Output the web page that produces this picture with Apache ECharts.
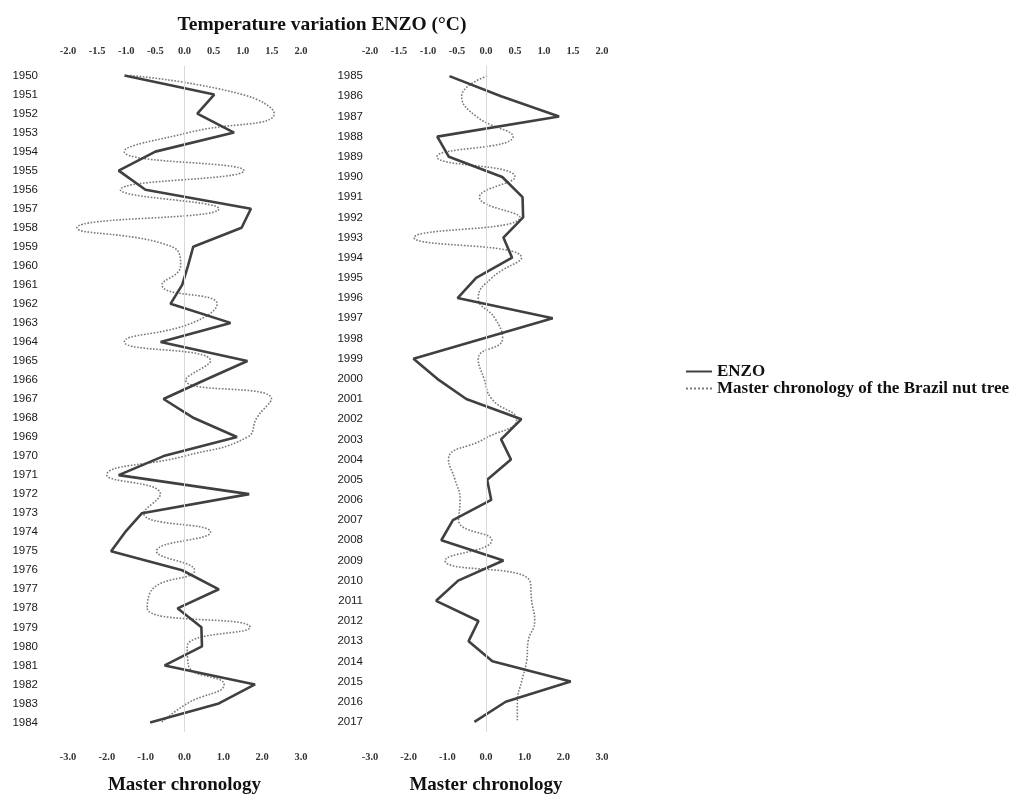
<!DOCTYPE html>
<html>
<head>
<meta charset="utf-8">
<script src="https://cdn.jsdelivr.net/npm/echarts@6/dist/echarts.min.js"></script>
<style>html,body{margin:0;padding:0;background:#fff}#c{width:1018px;height:800px}</style>
</head>
<body>
<div id="c"></div>
<script>
const years1 = ['1950','1951','1952','1953','1954','1955','1956','1957','1958','1959','1960','1961','1962','1963','1964','1965','1966','1967','1968','1969','1970','1971','1972','1973','1974','1975','1976','1977','1978','1979','1980','1981','1982','1983','1984'];
const enzo1 = [-1.03,0.51,0.22,0.85,-0.5,-1.13,-0.67,1.14,0.98,0.15,0.06,-0.04,-0.24,0.79,-0.41,1.08,0.35,-0.36,0.16,0.9,-0.36,-1.13,1.11,-0.73,-1.02,-1.26,-0.04,0.59,-0.12,0.29,0.3,-0.34,1.21,0.59,-0.59];
const master1 = [-1.4,1.5,2.31,0.1,-1.55,1.53,-1.65,0.89,-2.77,-0.32,-0.1,-0.58,0.84,0.2,-1.55,0.67,0.03,2.24,1.86,1.62,0.0,-2.0,-0.62,-1.05,0.67,-0.72,0.26,-0.83,-0.96,1.69,0.07,0.1,1.02,0.07,-0.6];

const years2 = ['1985','1986','1987','1988','1989','1990','1991','1992','1993','1994','1995','1996','1997','1998','1999','2000','2001','2002','2003','2004','2005','2006','2007','2008','2009','2010','2011','2012','2013','2014','2015','2016','2017'];
const enzo2 = [-0.63,0.26,1.26,-0.84,-0.64,0.28,0.63,0.64,0.3,0.45,-0.17,-0.49,1.15,-0.05,-1.25,-0.84,-0.34,0.61,0.26,0.43,0.02,0.09,-0.57,-0.77,0.3,-0.48,-0.86,-0.13,-0.3,0.11,1.46,0.34,-0.2];
const master2 = [0.03,-0.63,-0.25,0.7,-1.27,0.75,-0.17,0.88,-1.86,0.92,0.15,-0.2,0.23,0.43,-0.2,-0.05,0.15,0.79,-0.07,-0.97,-0.8,-0.67,-0.71,0.15,-1.06,1.13,1.18,1.26,1.09,1.05,0.92,0.81,0.81];

const titleText = 'Temperature variation ENZO (°C)';
const bottomName = 'Master chronology';
const enzoName = 'ENZO';
const masterName = 'Master chronology of the Brazil nut tree';

const SERIF = "'Liberation Serif','DejaVu Serif',serif";
const SANS = "'Liberation Sans',Arial,sans-serif";

function topAxis(gi){
  return {
    type:'value', gridIndex:gi, position:'top', min:-2, max:2, interval:0.5,
    axisLine:{show:false}, axisTick:{show:false}, splitLine:{show:false},
    axisLabel:{margin:9, fontFamily:SERIF, fontWeight:'bold', fontSize:10.5, color:'#333',
      formatter:v=>v.toFixed(1)}
  };
}
function bottomAxis(gi){
  return {
    type:'value', gridIndex:gi, position:'bottom', min:-3, max:3, interval:1,
    axisLine:{show:false}, axisTick:{show:false}, splitLine:{show:false},
    axisLabel:{margin:20, fontFamily:SERIF, fontWeight:'bold', fontSize:10.5, color:'#333',
      formatter:v=>v.toFixed(1)},
    name:bottomName, nameLocation:'middle', nameGap:44,
    nameTextStyle:{fontFamily:SERIF, fontWeight:'bold', fontSize:19, color:'#111'}
  };
}
function yAxis(gi, data, margin){
  return {
    type:'category', gridIndex:gi, data:data, inverse:true, boundaryGap:true,
    axisLine:{show:false}, axisTick:{show:false}, splitLine:{show:false},
    axisLabel:{margin:margin, fontFamily:SANS, fontSize:11.5, color:'#1a1a1a', interval:0}
  };
}
const enzoStyle = {color:'#404040', width:2.6, type:'solid'};
const masterStyle = {color:'#7a7a7a', width:1.6, type:'dotted'};
const zeroLine = {silent:true, symbol:'none', label:{show:false},
  lineStyle:{color:'#d9d9d9', width:1, type:'solid'}, data:[{xAxis:0}]};

const chart = echarts.init(document.getElementById('c'), null, {renderer:'canvas'});
chart.setOption({
  animation:false,
  backgroundColor:'#fff',
  title:{text:titleText, left:317, top:10, textAlign:'center',
    textStyle:{fontFamily:SERIF, fontWeight:'bold', fontSize:19.5, color:'#111'}},
  legend:{show:true, orient:'vertical', left:680, top:358, itemWidth:26, itemHeight:17, itemGap:0,
    data:[enzoName, masterName],
    itemStyle:{opacity:0},
    textStyle:{fontFamily:SERIF, fontWeight:'bold', fontSize:17, color:'#111'}},
  grid:[
    {left:68, width:233, top:66, height:678},
    {left:370, width:232, top:66, height:678}
  ],
  xAxis:[topAxis(0), bottomAxis(0), topAxis(1), bottomAxis(1)],
  yAxis:[yAxis(0, years1, 30), yAxis(1, years2, 7)],
  series:[
    {name:masterName, type:'line', xAxisIndex:1, yAxisIndex:0, data:master1, smooth:0.5,
      symbol:'none', lineStyle:masterStyle, itemStyle:{color:'#7a7a7a'}, z:2},
    {name:enzoName, type:'line', xAxisIndex:0, yAxisIndex:0, data:enzo1,
      symbol:'none', lineStyle:enzoStyle, itemStyle:{color:'#404040'}, markLine:zeroLine, z:3},
    {name:masterName, type:'line', xAxisIndex:3, yAxisIndex:1, data:master2, smooth:0.5,
      symbol:'none', lineStyle:masterStyle, itemStyle:{color:'#7a7a7a'}, z:2},
    {name:enzoName, type:'line', xAxisIndex:2, yAxisIndex:1, data:enzo2,
      symbol:'none', lineStyle:enzoStyle, itemStyle:{color:'#404040'}, markLine:zeroLine, z:3}
  ]
});
</script>
</body>
</html>
